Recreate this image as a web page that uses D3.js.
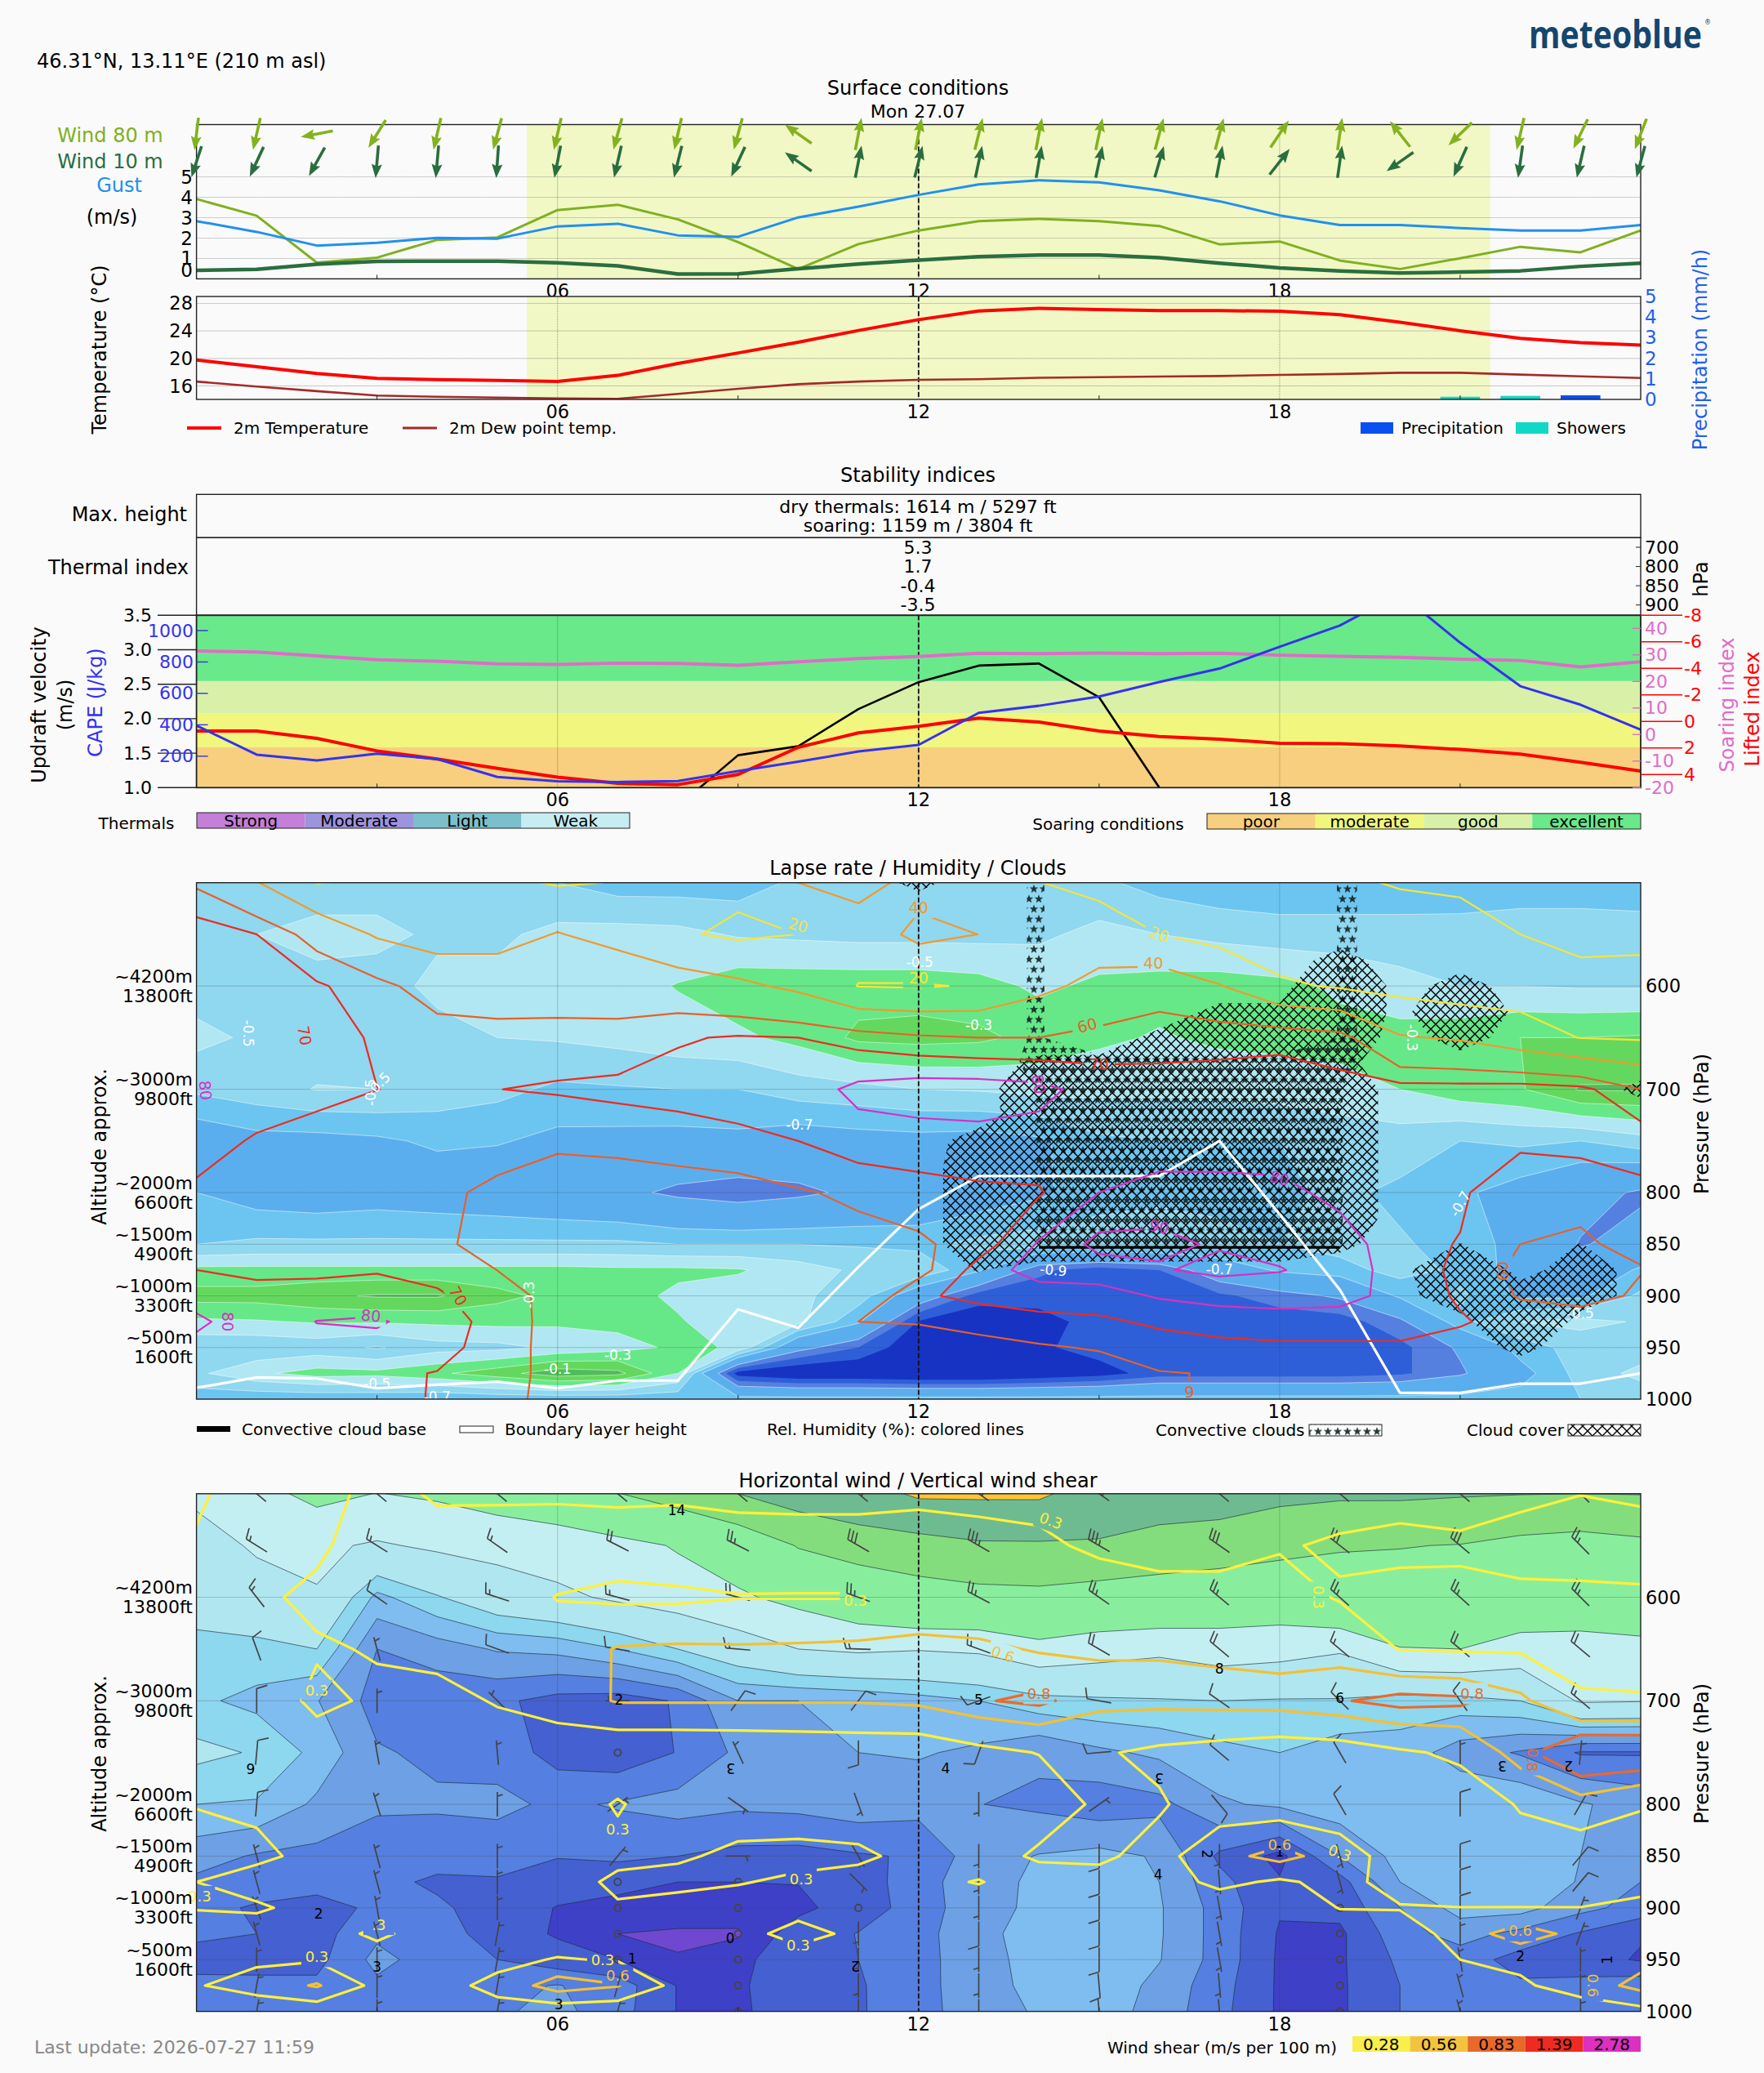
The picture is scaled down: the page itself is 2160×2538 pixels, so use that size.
<!DOCTYPE html>
<html>
<head>
<meta charset="utf-8">
<script src="https://cdn.jsdelivr.net/npm/d3@7"></script>
<style>
  html, body { margin: 0; padding: 0; background: #fafafa; }
  svg { display: block; }
  text { font-family: "DejaVu Sans", sans-serif; fill: #000; }
</style>
</head>
<body>
<div id="main"></div>
<script>
// hours of the day, 0..24
const hours = d3.range(25);
const mainTicks = [6, 12, 18];
const minorTicks = [3, 9, 15, 21];
const daylight = [5.49, 21.5];
const nowHour = 12;

// surface conditions
const wind80 = [3.91,3.09,.64,1.04,1.91,2.03,3.37,3.63,2.91,1.8,.08,1.7,2.37,2.83,2.94,2.83,2.59,1.69,1.83,.82,.08,1.01,1.57,1.3,2.37];
const wind10 = [-.03,.05,.49,.74,.77,.77,.62,.36,-.36,-.33,.1,.51,.85,1.09,1.17,1.17,1.04,.59,.18,-.08,-.26,-.18,-.08,.31,.59];
const gust = [2.83,2.3,1.63,1.77,2.01,1.97,2.57,2.7,2.13,2.06,3.01,3.54,4.11,4.63,4.83,4.73,4.34,3.8,3.11,2.64,2.64,2.49,2.37,2.37,2.64];
const dir80 = [187,193,259,212,193,195,193,195,193,195,305,11,11,14,11,12,15,15,34,8,322,226,193,206,201];
const dir10 = [198,205,209,185,185,184,191,193,194,205,305,11,14,12,10,12,16,11,38,8,235,204,188,193,195];
const temp2m = [19.77,18.8,17.82,17.1,16.93,16.81,16.64,17.53,19.27,20.79,22.36,24.06,25.63,26.9,27.28,27.11,26.94,26.94,26.86,26.35,25.25,24.02,22.91,22.28,21.94];
const dew2m = [16.64,15.92,15.24,14.6,14.43,14.3,14.18,14.13,14.85,15.58,16.25,16.64,16.89,16.98,17.19,17.27,17.36,17.44,17.61,17.74,17.91,17.91,17.65,17.4,17.15];
const showers = [[21,.13],[22,.17]];
const precipitation = [[23,.2]];

// stability indices
const thermalHours = [8,9,10,11,12,13,14,15,16];
const updraft = [.73,1.47,1.6,2.14,2.53,2.77,2.8,2.31,1.0];
const cape = [395,210,173,216,182,68,40,36,42,106,165,230,272,476,521,580,672,758,897,1032,1235,923,646,528,369];
const lifted = [.72,.72,1.27,2.22,2.83,3.53,4.2,4.66,4.76,4,1.95,.86,.37,-.25,.04,.72,1.13,1.33,1.64,1.68,1.85,2.11,2.46,3.08,3.73];
const soaring = [31.5,31.1,29.6,28.2,27.6,26.6,26.4,26.9,26.8,26.1,27.4,28.6,29.4,30.6,30.5,30.7,30.5,30.6,29.9,29.5,29.1,28.4,27.9,25.5,27.4];
const soaringBands = [[1,1.585,"#f7cf7e"],[1.585,2.08,"#f0f67e"],[2.08,2.546,"#d9f0a8"],[2.546,3.5,"#69e98a"]];
const thermalIndex = ["5.3","1.7","-0.4","-3.5"];
const thermalIndexP = [700,800,850,900];
const thermalKeys = [["Strong","#c47fd8"],["Moderate","#9e94dd"],["Light","#7bbfcc"],["Weak","#c6edf2"]];
const soaringKeys = [["poor","#f7cf7e"],["moderate","#f0f67e"],["good","#d9f0a8"],["excellent","#69e98a"]];

// pressure levels of the grids below
const levels = [500,550,600,650,700,750,800,850,875,900,925,950,975,1000];
const pressureTicks = [600,700,800,850,900,950,1000];
const altitudeTicks = [[600,"~4200m","13800ft"],[700,"~3000m","9800ft"],[800,"~2000m","6600ft"],[850,"~1500m","4900ft"],[900,"~1000m","3300ft"],[950,"~500m","1600ft"]];

// lapse rate, one row per level, one value per hour
const lapse = [
[-.55,-.55,-.55,-.55,-.55,-.55,-.6,-.65,-.65,-.65,-.58,-.55,-.55,-.55,-.55,-.58,-.64,-.67,-.68,-.68,-.68,-.66,-.64,-.64,-.65],
[-.56,-.5,-.47,-.47,-.52,-.52,-.47,-.46,-.47,-.51,-.52,-.53,-.53,-.53,-.52,-.47,-.5,-.53,-.55,-.55,-.55,-.56,-.56,-.56,-.56],
[-.55,-.55,-.53,-.55,-.47,-.47,-.45,-.44,-.395,-.34,-.34,-.34,-.34,-.36,-.42,-.38,-.36,-.35,-.37,-.42,-.47,-.5,-.5,-.51,-.51],
[-.47,-.52,-.55,-.55,-.54,-.5,-.49,-.47,-.44,-.42,-.37,-.28,-.27,-.28,-.33,-.38,-.41,-.38,-.37,-.36,-.36,-.34,-.3,-.3,-.29],
[-.58,-.54,-.495,-.5,-.54,-.57,-.62,-.61,-.6,-.6,-.55,-.53,-.5,-.49,-.47,-.47,-.48,-.47,-.46,-.44,-.4,-.34,-.31,-.19,-.19],
[-.79,-.74,-.74,-.72,-.68,-.69,-.73,-.735,-.74,-.73,-.77,-.75,-.74,-.75,-.72,-.62,-.6,-.6,-.6,-.56,-.55,-.6,-.58,-.6,-.54],
[-.7,-.76,-.78,-.76,-.78,-.8,-.83,-.86,-.93,-.97,-.93,-.87,-.82,-.78,-.72,-.64,-.62,-.62,-.62,-.58,-.62,-.68,-.75,-.84,-.92],
[-.6,-.58,-.58,-.58,-.58,-.58,-.58,-.58,-.6,-.6,-.6,-.61,-.63,-.57,-.55,-.55,-.55,-.58,-.6,-.56,-.59,-.63,-.75,-.91,-.85],
[-.37,-.37,-.37,-.37,-.37,-.37,-.37,-.38,-.38,-.39,-.45,-.52,-.52,-.68,-.98,-1.05,-1,-.8,-.68,-.64,-.56,-.62,-.75,-.82,-.68],
[-.26,-.26,-.22,-.19,-.19,-.27,-.33,-.36,-.42,-.45,-.48,-.55,-.8,-1.05,-1.05,-1.05,-1.05,-1.02,-.95,-.88,-.68,-.58,-.72,-.72,-.58],
[-.42,-.41,-.39,-.39,-.38,-.37,-.38,-.37,-.39,-.46,-.47,-.68,-1.11,-1.18,-1.15,-1.05,-1.06,-1.08,-1.06,-1.05,-.93,-.63,-.5,-.47,-.51],
[-.58,-.58,-.56,-.61,-.54,-.53,-.48,-.44,-.38,-.41,-.85,-1,-1.2,-1.25,-1.12,-1.05,-1.05,-1.05,-1.05,-1.05,-1.03,-.88,-.65,-.56,-.56],
[-.52,-.42,-.36,-.37,-.32,-.24,-.14,-.17,-.4,-1.15,-1.22,-1.22,-1.25,-1.25,-1.2,-1.15,-1.05,-1.05,-1.05,-1.05,-1.02,-.92,-.75,-.56,-.47],
[-.66,-.68,-.68,-.68,-.7,-.68,-.68,-.68,-.68,-.65,-.65,-.65,-.65,-.65,-.65,-.65,-.65,-.65,-.65,-.65,-.65,-.65,-.65,-.6,-.57]];
const lapseLevels = [-1.1,-1,-.9,-.7,-.6,-.5,-.4,-.3,-.2,-.1];
const lapseColors = ["#1733c4","#2f5fd8","#5580e0","#5baeee","#6cc5f0","#90d7f0","#b0e7f2","#66e888","#64d85e","#50bd5a","#a8e0a0"];

// relative humidity
const humidity = [
[58,41,19.5,22,27,24,18.5,20.5,25,24,40,48,33,30,20.4,15,13,10,8,18,21,24,28,30,30],
[76,70,54.5,38,32,32,41,33,22,17,20.05,28,45,39.9,25,29,20,13,8,8,13,10,20,28,24],
[77,72,71.5,64,53,53,52,56,50,44,36,19.5,18.5,21.5,35,46,52,41,23,18,14,10,11,10,14],
[77,75,77,68,66,64,65,62.3,69,71,70,66,62,60,60,64,68,68.5,69,65,41.5,38,29,19.5,18],
[81,77,76,70.1,68,69.9,71,73,74,75,75,82.5,85,85,83,75.5,72,72,72,73,74,74,75,73,60],
[75,68.7,62,64,65,65,62,62,64.7,67.5,70,76,76,77,76,74,72,74,74,72,72,73,73,74,76],
[68,66,62,62,62.5,57.5,54,56,55,55.5,59,62,66,68,69,80,85.5,84,83,77,72,72,60,62,67],
[67,67,63,62,61.5,57,54,54,53,53,55,56.5,58,65,81,93,92,89,87,85,74,69.4,60,59,62],
[70,69,68,69,67,59.9,55,53,52,50,50,52,56,74,85,85,89,93,90.5,86,75,68,57,55,59.5],
[76,71.6,74,76,71.3,65,56,52,51,48,47,50,68,73.5,74,76,81,81,84,84,76,68.7,59,55,62],
[82,74,80.2,81,76,65.5,56,52,51,48,47,60,61,62,67.5,68,72,78.5,76,74.5,73,71,66,67,68],
[77,72,77,77,74,65,56,52,50,47,46,50,52,58,58.7,61,65,64.5,68,68.5,69,66,66,67,68],
[75,72,75,72,69.6,65,56,52,50,47,46,47,47,47,48,54,59.5,60.5,63,63,64,64,65,66,68],
[73,72,74,72,69.5,65,55,52,50,47,46,47,47,47,47,50,59,61,63,63,64,64,65,66,68]];
const humidityLevels = [[20,"#f5e53a"],[40,"#f09a2d"],[60,"#e8602a"],[70,"#ee2b20"],[80,"#d830c0"],[90,"#d830c0"]];

// horizontal wind speed (m/s)
const windSpeed = [
[8.5,9.3,10.6,9.95,10.3,11,11.5,13.9,15.5,18,20,22,26,26,26,22,21,20,19,18.6,18.6,18.3,18.1,18,18.1],
[7,8.3,8.3,7.8,8.3,8.6,9,9.2,10.2,11.3,14.2,15.3,15.6,17.2,17.3,17.4,16,16,15,14.2,14.1,13.9,13,12.5,13.2],
[6.5,7,7.9,4.7,5.9,7,7.6,8.3,8.9,9.7,10.6,11.8,12.9,12.9,13.1,12.4,12.4,11.5,11.5,12.7,12.6,12.2,11.7,11.5,11.5],
[5.7,5.7,6,3,3.5,4.1,4.3,5,6,7,8,8.3,8.1,8.3,9.3,8.8,8.4,9,8.7,8.2,9.9,10,9.2,9.2,9.5],
[5.2,4.7,4.05,2.6,2.3,2.2,1.65,1.5,2.1,4,4,4.2,4.6,5,5.6,5.8,5.9,6,5.9,5.9,5.5,5.6,6,8.2,8.1],
[6.3,5.9,4.7,3.1,2.8,2.6,1.6,1.3,2.05,3.2,3.8,4,4.1,3.8,3.2,3.8,4.2,4.7,5,4.5,4.6,3.5,2.9,1.9,1.9],
[5,4.9,3.8,3.2,3.15,3.25,2.8,3.1,3.4,3.2,3.3,3.6,3.4,3.02,2.8,2.4,2.7,3.85,4.2,4.6,4.8,4.9,4.8,4.1,3.6],
[3.4,2.9,2.73,2.3,2.35,2.4,2.05,2.2,2,1.7,1.65,1.9,2.1,3.6,4.05,4.3,3.9,1.8,.7,3,4.35,4.9,4.9,4,3.5],
[2.8,2.7,2.4,2.25,1.85,1.9,1.5,1.3,1,1,1.02,1.45,2.6,3.6,4.2,4.8,4,2.3,1.1,1.6,4,4.8,4.9,3.9,3],
[2.4,1.85,1.6,2.2,2.15,1.6,.95,.7,.7,.7,.85,1.3,2.6,3.5,4.3,4.9,4.1,2.6,1.1,1.3,3,4.4,4.4,3.3,2.6],
[2.2,2,1.6,2.8,2.5,1.5,.9,.5,.45,.45,1.3,2.05,2.6,3.8,4.3,4.9,4.1,2.6,.9,.8,2.6,3.4,2.7,1.9,1.1],
[1.6,1.7,1.7,3.3,2.5,2,1.4,1,.52,.75,1.6,2,2.6,3.7,4.3,4.9,4.05,2.6,.85,.85,2.2,2.5,1.6,1.4,.9],
[2.3,2.2,2.2,2.8,2.5,2.75,3.05,2.5,.95,.85,1.65,1.9,2.65,3.6,4.3,4.7,3.7,2.4,.85,.85,2,2.5,2.15,2.3,2.6],
[2.6,2.7,2.6,2.7,2.4,2.85,3.3,2.4,.95,.8,1.65,1.9,2.6,3.6,4.1,4.5,3.6,2.3,.85,.85,2,2.5,2.3,2.4,2.5]];
const windLevels = [.5,1,2,3,4,5,6,8,10,14,18,25];
const windColors = ["#7048d0","#3f40c8","#4560d0","#557fe0","#6da0e4","#7fbcf0","#8dd7ef","#b0e6f0","#c4eff2","#88ee9e","#84dd7c","#6fbb91","#fdc535"];

// wind direction (deg) of the barbs: rows as levels, columns as barbHours
const barbHours = [1,3,5,7,9,11,13,15,17,19,21,23];
const barbDir = [
[310,310,310,310,310,310,305,305,310,310,310,315],
[302,302,305,297,297,300,300,300,305,308,310,315],
[322,305,288,285,285,290,298,305,310,312,312,315],
[340,345,290,280,275,272,290,300,310,310,310,310],
[0,0,315,270,35,37,250,280,305,315,325,310],
[5,350,355,100,335,180,200,265,310,330,0,5],
[5,343,0,55,125,160,180,55,140,330,0,30],
[345,345,0,40,90,150,180,180,180,165,0,40],
[345,345,0,0,0,135,180,180,175,165,0,40],
[340,350,0,0,0,170,180,180,170,0,0,20],
[345,345,10,0,0,180,180,180,170,0,0,20],
[0,0,10,0,0,180,180,180,170,0,350,0],
[10,0,10,15,0,180,180,175,175,0,345,0],
[10,0,10,15,0,180,180,175,175,0,345,0]];

// vertical wind shear (m/s per 100 m)
const shear = [
[.33,.2,.2,.38,.27,.28,.26,.26,.25,.22,.22,.22,.22,.22,.22,.22,.22,.2,.2,.2,.22,.2,.25,.295,.27],
[.28,.2,.25,.45,.4,.37,.46,.41,.48,.44,.42,.42,.48,.4,.35,.25,.2,.2,.28,.33,.36,.34,.39,.45,.39],
[.2,.25,.36,.45,.45,.45,.29,.25,.25,.29,.29,.29,.35,.4,.45,.45,.4,.4,.4,.28,.22,.24,.25,.23,.27],
[.2,.2,.27,.32,.42,.45,.43,.62,.64,.63,.64,.66,.7,.65,.58,.58,.58,.55,.5,.5,.29,.27,.27,.24,.25],
[.15,.1,.37,.25,.17,.33,.45,.62,.62,.62,.62,.62,.65,.78,.85,.67,.67,.69,.71,.78,.88,.85,.66,.32,.31],
[.2,.15,.14,.1,.1,.08,.1,.05,.05,.06,.08,.1,.1,.22,.31,.33,.24,.18,.12,.15,.26,.35,.72,1.05,1.05],
[.29,.25,.2,.12,.1,.08,.1,.33,.1,.1,.1,.1,.1,.1,.1,.36,.33,.15,.12,.1,.1,.15,.32,.5,.33],
[.4,.36,.22,.15,.12,.1,.1,.2,.25,.38,.4,.36,.2,.12,.36,.35,.2,.5,.7,.45,.15,.1,.2,.1,.1],
[.3,.18,.2,.15,.1,.1,.12,.38,.42,.32,.24,.18,.2,.32,.1,.2,.15,.38,.25,.4,.18,.12,.15,.12,.18],
[.31,.34,.2,.15,.1,.1,.1,.26,.12,.15,.15,.12,.15,.1,.1,.1,.1,.1,.1,.31,.32,.305,.305,.305,.39],
[.2,.15,.15,.36,.15,.1,.12,.18,.1,.15,.45,.2,.12,.1,.1,.1,.1,.1,.1,.1,.1,.45,.75,.5,.45],
[.2,.25,.27,.15,.15,.22,.32,.28,.1,.1,.1,.1,.1,.1,.1,.1,.1,.1,.1,.1,.1,.3,.36,.48,.5],
[.28,.42,.63,.21,.2,.38,.75,.62,.2,.1,.1,.1,.1,.1,.1,.1,.1,.1,.1,.1,.1,.1,.26,.42,.7],
[.2,.1,.1,.15,.2,.2,.1,.08,.1,.1,.1,.1,.1,.1,.1,.1,.1,.1,.1,.1,.1,.1,.1,.15,.2]];
const shearLevels = [[.3,"#fff03c"],[.6,"#f3c036"],[.8,"#ea6a2a"]];
const shearKeys = [["0.28","#f9ee4b"],["0.56","#f3c33d"],["0.83","#e9682a"],["1.39","#ee2b20"],["2.78","#dc30c0"]];

// boundary layer height and convective cloud base (hPa)
const boundaryLayer = [989,979,980,989.5,986,983,989.5,982,982,913,931,872,816,784,784,784,784,750,821,894,994,994,985,985,975];
const cloudBaseHours = [14,15,16,17,18,19];
const cloudBase = [853,853,853,853,853,853];

// cloud cover and convective cloud, on a 25 hPa grid: [hPa, from hour, to hour, value]
const cloudSpans = [
[500,12,12,.3],[575,19,19,.35],[600,19,19,.9],[600,21,21,.4],[625,18,18,.3],[625,19,19,.9],[625,21,21,1],[650,21,21,.4],
[625,17,17,.3],[650,16,16,.3],[650,17,18,1],[650,19,19,.6],[675,14,19,.3],[700,14,14,.6],[700,15,18,1],[700,19,19,.55],[700,24,24,.3],
[725,14,14,.55],[725,15,18,1],[725,19,19,.55],[750,13,13,.4],[750,14,18,1],[750,19,19,.55],[775,13,13,.49],[775,14,18,1],[775,19,19,.55],
[800,13,13,.49],[800,14,18,1],[800,19,19,.55],[825,13,13,.49],[825,14,18,1],[825,19,19,.55],[850,13,13,.49],[850,14,18,.6],[850,19,19,.3],
[875,13,13,.22],[850,21,21,.21],[875,21,21,1],[900,21,21,.6],[900,22,22,.5],[925,22,22,1],[950,22,22,.3],[850,23,23,.21],[875,23,23,.5],[900,23,23,.5]];
const convectiveColumnRows = [500,525,550,575,600,625,650];
const convectiveColumns = [[13,.12],[14,.22],[19,.21],[20,.175]];
const convectiveBody = [
[675,14,19,.3],[700,14,14,.21],[700,15,18,1],[700,19,19,.21],[725,14,14,.21],[725,15,18,1],[725,19,19,.21],[750,14,14,.21],[750,15,18,1],[750,19,19,.21],
[775,14,14,.21],[775,15,18,1],[775,19,19,.21],[800,14,14,.21],[800,15,18,1],[800,19,19,.21],[825,14,14,.21],[825,15,18,1],[825,19,19,.21],[850,14,19,.21]];

// contour labels: [hour, hPa, text, rotation]
const lapseLabels = [[.86,646,"-0.5",90],[3.02,695,"-0.5",-45],[2.9,703,"-0.5",-90],[10.02,734,"-0.7",0],[5.53,899,"-0.3",-90],[7.0,957,"-0.3",0],[6,971,"-0.1",0],[3,985,"-0.5",0],[4,998,"-0.7",0],[12.02,577,"-0.5",0],[13,638,"-0.3",0],[20.2,650,"-0.3",90],[14.24,875,"-0.9",5],[17,874,"-0.7",0],[23,917,"-0.5",0],[21,811,"-0.7",-60]];
const humidityLabels = [[1.8,648,"70",80,70],[.15,701,"80",85,80],[.52,925,"80",90,80],[2.9,919,"80",5,80],[4.35,900,"70",60,70],[10,541,"20",15,20],[12,524,"40",0,40],[12,592,"20",0,20],[16,550,"20",20,20],[15.9,578,"40",0,40],[14.8,638,"60",-15,60],[15,676,"70",0,70],[14,695,"80",80,80],[18,786,"80",15,80],[16,833,"90",10,90],[21.7,876,"60",-90,60],[16.5,993,"6",180,60]];
const windLabels = [[.9,766,"9",0],[7.02,699,"2",0],[8.88,765,"3",180],[12.45,765,"4",0],[2.03,906,"2",0],[3,957,"3",0],[6.02,993,"3",0],[7.24,949,"1",0],[8.87,929,"0",0],[10.95,956,"2",180],[7.98,516,"14",0],[13,699,"5",0],[17,669,"8",0],[19,697,"6",0],[16,775,"3",180],[15.98,868,"4",0],[16.8,848,"2",90],[18,846,"1",0],[21.7,763,"3",180],[22.8,763,"2",180],[22,947,"2",0],[23.45,950,"1",-90]];
const shearLabels = [[3.03,916,".3",0,.3],[2,690,"0.3",0,.3],[.05,889,"0.3",0,.3],[2,947,"0.3",0,.3],[6.75,950,"0.3",0,.3],[7,824,"0.3",0,.3],[10.05,872,"0.3",0,.3],[10.95,603,"0.3",0,.3],[10,936,"0.3",0,.3],[7.0,965,"0.6",0,.6],[14.2,526,"0.3",20,.3],[13.4,655,"0.6",20,.6],[14,693,"0.8",0,.8],[18,839,"0.6",0,.6],[19,847,"0.3",20,.3],[18.65,600,"0.3",90,.3],[21.2,693,"0.8",0,.8],[22.2,757,"0.8",90,.8],[22,922,"0.6",0,.6],[23.2,975,"0.6",90,.6]];

const width = 2160, height = 2538;
const left = 240.6, right = 2009;

const svg = d3.select("#main").append("svg")
  .attr("width", width).attr("height", height)
  .attr("viewBox", [0, 0, width, height]);
const defs = svg.append("defs");

const x = d3.scaleLinear().domain([0, 24]).range([left, right]);

function label(g, px, py, str, opts = {}) {
  const t = g.append("text").attr("x", px).attr("y", py)
    .attr("text-anchor", opts.anchor || "middle")
    .attr("dominant-baseline", "central")
    .attr("font-size", opts.size || 24)
    .style("fill", opts.color || "#000")
    .text(str);
  if (opts.rotate) t.attr("transform", `rotate(${opts.rotate},${px},${py})`);
  if (opts.weight) t.attr("font-weight", opts.weight);
  return t;
}

function addClip(id, x0, y0, w, h) {
  defs.append("clipPath").attr("id", id).append("rect")
    .attr("x", x0).attr("y", y0).attr("width", w).attr("height", h);
  return `url(#${id})`;
}

function frame(g, y0, y1, w = 1.4) {
  g.append("rect").attr("x", left).attr("y", y0).attr("width", right - left).attr("height", y1 - y0)
    .attr("fill", "none").attr("stroke", "#222").attr("stroke-width", w);
}

function hourLines(g, y0, y1) {
  g.selectAll(null).data(mainTicks).join("line")
    .attr("x1", d => x(d)).attr("x2", d => x(d)).attr("y1", y0).attr("y2", y1)
    .attr("stroke", "#333").attr("stroke-width", .7).attr("stroke-dasharray", "1,1").attr("opacity", .7);
  g.append("line").attr("x1", x(nowHour)).attr("x2", x(nowHour)).attr("y1", y0).attr("y2", y1)
    .attr("stroke", "#111").attr("stroke-width", 1.8).attr("stroke-dasharray", "6,3");
}

function hourAxis(g, y1) {
  g.selectAll(null).data(minorTicks).join("line")
    .attr("x1", d => x(d)).attr("x2", d => x(d)).attr("y1", y1 - 5).attr("y2", y1)
    .attr("stroke", "#222").attr("stroke-width", 1);
  mainTicks.forEach(h => label(g, x(h), y1 + 15, d3.format("02")(h), { size: 22.5 }));
}

function hGrid(g, y, ticks) {
  g.selectAll(null).data(ticks).join("line")
    .attr("x1", left).attr("x2", right).attr("y1", d => y(d)).attr("y2", d => y(d))
    .attr("stroke", "#444").attr("stroke-width", .8).attr("stroke-dasharray", "1,1").attr("opacity", .7);
}

function drawLine(g, xs, ys, color, w) {
  g.append("path")
    .attr("d", d3.line().x(d => d[0]).y(d => d[1])(xs.map((v, i) => [x(v), ys(i)])))
    .attr("fill", "none").attr("stroke", color).attr("stroke-width", w).attr("stroke-linejoin", "round");
}

// ---------------- title block
label(svg, 45, 75, "46.31°N, 13.11°E (210 m asl)", { anchor: "start" });
label(svg, 2084, 41, "meteoblue", { anchor: "end", size: 46, color: "#15466e", weight: 700 })
  .style("font-family", "'Open Sans', sans-serif").attr("textLength", 212).attr("lengthAdjust", "spacingAndGlyphs");
label(svg, 2087, 27, "®", { anchor: "start", size: 8, color: "#15466e" });
label(svg, 1124, 108, "Surface conditions");
label(svg, 1124, 136, "Mon 27.07", { size: 22 });

// ---------------- surface conditions
const windTop = 152.5, windBottom = 341.4;
const yWind = d3.scaleLinear().domain([0, 1, 5]).range([330.5, 316.4, 216.4]);
const windP = svg.append("g");
windP.append("rect").attr("x", x(daylight[0])).attr("y", windTop).attr("width", x(daylight[1]) - x(daylight[0])).attr("height", windBottom - windTop).attr("fill", "#f1f8c6");
hGrid(windP, yWind, [1, 2, 3, 4, 5]);
hourLines(windP, windTop, windBottom);
const windClip = addClip("clipWind", left, windTop, right - left, windBottom - windTop);
const windLines = windP.append("g").attr("clip-path", windClip);
drawLine(windLines, hours, i => yWind(wind80[i]), "#80b020", 3);
drawLine(windLines, hours, i => yWind(gust[i]), "#2090f0", 3);
drawLine(windLines, hours, i => yWind(wind10[i]), "#2a6e3f", 4.5);
frame(windP, windTop, windBottom);
hourAxis(windP, windBottom);
[5, 4, 3, 2, 1, 0].forEach(v => label(windP, 236, yWind(v) + (v > 1 ? 1 : 0), v, { anchor: "end", size: 23 }));
label(svg, 135, 166, "Wind 80 m", { color: "#80b020" });
label(svg, 135, 198, "Wind 10 m", { color: "#2a6e3f" });
label(svg, 146, 227, "Gust", { color: "#2090f0" });
label(svg, 137, 266, "(m/s)");

// quiver arrows
function arrows(dirs, cy, color) {
  const g = svg.append("g").attr("fill", color);
  g.selectAll("path").data(dirs).join("path")
    .attr("transform", (d, i) => `translate(${x(i)},${cy}) rotate(${d})`)
    .attr("d", "M-1.8,20 L1.8,20 L1.8,-5 L6.5,-3 L0,-20 L-6.5,-3 L-1.8,-5 Z");
}
arrows(dir80, 164, "#83b21e");
arrows(dir10, 198, "#2a6e3f");

// ---------------- temperature
const tempTop = 363, tempBottom = 489;
const yTemp = d3.scaleLinear().domain([16, 28]).range([472.5, 371.4]);
const yRain = d3.scaleLinear().domain([0, 5]).range([tempBottom, tempTop]);
const tempP = svg.append("g");
tempP.append("rect").attr("x", x(daylight[0])).attr("y", tempTop).attr("width", x(daylight[1]) - x(daylight[0])).attr("height", tempBottom - tempTop).attr("fill", "#f1f8c6");
hGrid(tempP, yTemp, [16, 20, 24, 28]);
tempP.selectAll(null).data(showers).join("rect")
  .attr("x", d => x(d[0] - .33)).attr("width", x(.66) - x(0)).attr("y", d => yRain(d[1])).attr("height", d => yRain(0) - yRain(d[1])).attr("fill", "#11d8c6");
tempP.selectAll(null).data(precipitation).join("rect")
  .attr("x", d => x(d[0] - .33)).attr("width", x(.66) - x(0)).attr("y", d => yRain(d[1])).attr("height", d => yRain(0) - yRain(d[1])).attr("fill", "#0a50f0");
hourLines(tempP, tempTop, tempBottom);
const tempClip = addClip("clipTemp", left, tempTop, right - left, tempBottom - tempTop);
const tempLines = tempP.append("g").attr("clip-path", tempClip);
drawLine(tempLines, hours, i => yTemp(temp2m[i]), "#ff0000", 4);
drawLine(tempLines, hours, i => yTemp(dew2m[i]), "#a52a2a", 2.6);
frame(tempP, tempTop, tempBottom);
hourAxis(tempP, tempBottom);
[16, 20, 24, 28].forEach(v => label(tempP, 236, yTemp(v), v, { anchor: "end", size: 22.5 }));
[0, 1, 2, 3, 4, 5].forEach(v => label(tempP, 2014, yRain(v), v, { anchor: "start", size: 23, color: "#1e5ff0" }));
label(svg, 122, 428, "Temperature (°C)", { rotate: -90 });
label(svg, 2082, 428, "Precipitation (mm/h)", { rotate: -90, color: "#1e5ff0" });

// legend
function lineKey(px, py, color, w, str) {
  svg.append("line").attr("x1", px).attr("x2", px + 42).attr("y1", py).attr("y2", py).attr("stroke", color).attr("stroke-width", w);
  label(svg, px + 57, py, str, { anchor: "start", size: 20 });
}
lineKey(229, 524, "#ff0000", 4, "2m Temperature");
lineKey(493, 524, "#a52a2a", 3, "2m Dew point temp.");
svg.append("rect").attr("x", 1666).attr("y", 517).attr("width", 40).attr("height", 14).attr("fill", "#0a50f0");
label(svg, 1716, 524, "Precipitation", { anchor: "start", size: 20 });
svg.append("rect").attr("x", 1856).attr("y", 517).attr("width", 40).attr("height", 14).attr("fill", "#11d8c6");
label(svg, 1906, 524, "Showers", { anchor: "start", size: 20 });

// ---------------- stability indices
label(svg, 1124, 582, "Stability indices");
const stabTop = 753.3, stabBottom = 964.3;
const yUp = d3.scaleLinear().domain([1, 3.5]).range([stabBottom, stabTop]);
const yCape = d3.scaleLinear().domain([0, 1000]).range([stabBottom, 772]);
const yLift = d3.scaleLinear().domain([-8, 4]).range([stabTop, 948.3]);
const ySoar = d3.scaleLinear().domain([-20, 40]).range([stabBottom, 769.3]);
const yIdx = d3.scalePoint().domain(thermalIndexP).range([670, 740.7]);
const stab = svg.append("g");
stab.selectAll(null).data(soaringBands).join("rect")
  .attr("x", left).attr("width", right - left)
  .attr("y", d => yUp(d[1])).attr("height", d => yUp(d[0]) - yUp(d[1])).attr("fill", d => d[2]);
hourLines(stab, stabTop, stabBottom);
const stabClip = addClip("clipStab", left, stabTop, right - left, stabBottom - stabTop);
const stabLines = stab.append("g").attr("clip-path", stabClip);
drawLine(stabLines, thermalHours, i => yUp(updraft[i]), "#000", 2.6);
drawLine(stabLines, hours, i => ySoar(soaring[i]), "#e06cc8", 4);
drawLine(stabLines, hours, i => yLift(lifted[i]), "#ff0000", 4);
drawLine(stabLines, hours, i => yCape(cape[i]), "#3333ee", 3);
frame(stab, 605.3, 658.3);
frame(stab, 658.3, stabTop);
frame(stab, stabTop, stabBottom, 1.8);
hourAxis(stab, stabBottom);
label(stab, 229, 630, "Max. height", { anchor: "end" });
label(stab, 231, 695, "Thermal index", { anchor: "end" });
label(stab, 1124, 620, "dry thermals: 1614 m / 5297 ft", { size: 22 });
label(stab, 1124, 643, "soaring: 1159 m / 3804 ft", { size: 22 });
thermalIndex.forEach((t, i) => {
  label(stab, 1124, yIdx(thermalIndexP[i]), t, { size: 22 });
  stab.append("line").attr("x1", right - 6).attr("x2", right).attr("y1", yIdx(thermalIndexP[i])).attr("y2", yIdx(thermalIndexP[i])).attr("stroke", "#222");
  label(stab, 2014, yIdx(thermalIndexP[i]), thermalIndexP[i], { anchor: "start", size: 22 });
});
label(svg, 2083, 709, "hPa", { rotate: -90 });
d3.range(1, 3.6, .5).forEach(v => {
  stab.append("line").attr("x1", 193).attr("x2", left).attr("y1", yUp(v)).attr("y2", yUp(v)).attr("stroke", "#222").attr("stroke-width", 1.4);
  label(stab, 186, yUp(v), d3.format(".1f")(v), { anchor: "end", size: 22 });
});
[200, 400, 600, 800, 1000].forEach(v => {
  stab.append("line").attr("x1", left).attr("x2", left + 14).attr("y1", yCape(v)).attr("y2", yCape(v)).attr("stroke", "#3333ee").attr("stroke-width", 1.4);
  label(stab, 237, yCape(v), v, { anchor: "end", size: 22, color: "#3333ee" });
});
[-8, -6, -4, -2, 0, 2, 4].forEach(v => {
  stab.append("line").attr("x1", right).attr("x2", 2060).attr("y1", yLift(v)).attr("y2", yLift(v)).attr("stroke", "#ff0000").attr("stroke-width", 1.6);
  label(stab, 2062, yLift(v), v, { anchor: "start", size: 22, color: "#ff0000" });
});
[-20, -10, 0, 10, 20, 30, 40].forEach(v => {
  stab.append("line").attr("x1", right - 10).attr("x2", right).attr("y1", ySoar(v)).attr("y2", ySoar(v)).attr("stroke", "#e06cc8").attr("stroke-width", 1.4);
  label(stab, 2014, ySoar(v), v, { anchor: "start", size: 22, color: "#e06cc8" });
});
label(svg, 48, 863, "Updraft velocity", { rotate: -90 });
label(svg, 80, 863, "(m/s)", { rotate: -90 });
label(svg, 117, 860, "CAPE (J/kg)", { rotate: -90, color: "#3333ee" });
label(svg, 2115, 863, "Soaring index", { rotate: -90, color: "#e06cc8" });
label(svg, 2146, 868, "Lifted index", { rotate: -90, color: "#ff0000" });

function keyBar(keys, x0, x1, y0, y1) {
  const w = (x1 - x0) / keys.length;
  keys.forEach((k, i) => {
    svg.append("rect").attr("x", x0 + i * w).attr("y", y0).attr("width", w).attr("height", y1 - y0).attr("fill", k[1]);
    label(svg, x0 + (i + .5) * w, (y0 + y1) / 2, k[0], { size: 20 });
  });
  svg.append("rect").attr("x", x0).attr("y", y0).attr("width", x1 - x0).attr("height", y1 - y0).attr("fill", "none").attr("stroke", "#222");
}
label(svg, 167, 1008, "Thermals", { size: 20 });
keyBar(thermalKeys, 241, 771, 995, 1014);
label(svg, 1357, 1009, "Soaring conditions", { size: 20 });
keyBar(soaringKeys, 1478, 2009, 996, 1015);

// ---------------- shared grid helpers
const levelIndex = d3.scaleLinear().domain(levels.map((_, i) => i + .5)).range(levels);

function gridPath(y, hourStep = 1, levelScale = levelIndex) {
  const projection = d3.geoTransform({
    point(px, py) { this.stream.point(x((px - .5) * hourStep), y(levelScale(py))); }
  });
  return d3.geoPath(projection);
}

function contourField(grid, thresholds) {
  return d3.contours().size([grid[0].length, grid.length]).thresholds(thresholds)(grid.flat());
}

function fromSpans(spans, rows) {
  const g = rows.map(() => hours.map(() => 0));
  spans.forEach(s => {
    const r = rows.indexOf(s[0]);
    for (let h = s[1]; h <= s[2]; h++) g[r][h] = s[3];
  });
  return g;
}

function axisLabels(g, y, centre, pressureCentre) {
  altitudeTicks.forEach(t => {
    label(g, 236, y(t[0]) - 12, t[1], { anchor: "end", size: 22 });
    label(g, 236, y(t[0]) + 12, t[2], { anchor: "end", size: 22 });
  });
  pressureTicks.forEach(p => label(g, 2015, y(p), p, { anchor: "start", size: 22.5 }));
  label(svg, 122, centre, "Altitude approx.", { rotate: -90 });
  label(svg, 2084, pressureCentre, "Pressure (hPa)", { rotate: -90 });
}

function contourLabels(g, y, labels, colorOf, size = 19) {
  labels.forEach(l => {
    label(g, x(l[0]), y(l[1]), l[2], { size, color: colorOf(l), rotate: l[3] });
  });
}

// level lines cut open under their labels
function contourLines(g, y, grid, keyed, labels, w, id) {
  const clip = addClip(id, left, y(500), right - left, y(1000) - y(500));
  const mask = defs.append("mask").attr("id", id + "Mask").attr("maskUnits", "userSpaceOnUse")
    .attr("x", 0).attr("y", 0).attr("width", width).attr("height", height);
  mask.append("rect").attr("width", width).attr("height", height).attr("fill", "#fff");
  labels.forEach(l => {
    const px = x(l[0]), py = y(l[1]);
    mask.append("rect").attr("x", px - 19).attr("y", py - 13).attr("width", 38).attr("height", 26)
      .attr("transform", `rotate(${l[3]},${px},${py})`).attr("fill", "#000");
  });
  const path = gridPath(y);
  const outer = g.append("g").attr("clip-path", clip);
  const inner = outer.append("g").attr("mask", `url(#${id}Mask)`);
  keyed.forEach(k => {
    contourField(grid, [k[0]]).forEach(c => {
      inner.append("path").attr("d", path(c)).attr("fill", "none")
        .attr("stroke", k[1]).attr("stroke-width", w).attr("stroke-linejoin", "round");
    });
  });
}

// ---------------- lapse rate / humidity / clouds
label(svg, 1124, 1063, "Lapse rate / Humidity / Clouds");
const yLapse = d3.scaleLinear().domain([500, 1000]).range([1080.7, 1713]);
const lapseP = svg.append("g");
const lapseClip = addClip("clipLapse", left, yLapse(500), right - left, yLapse(1000) - yLapse(500));
const lapseFill = lapseP.append("g").attr("clip-path", lapseClip);
lapseFill.append("rect").attr("x", left).attr("y", yLapse(500)).attr("width", right - left).attr("height", yLapse(1000) - yLapse(500)).attr("fill", lapseColors[0]);
const lapsePath = gridPath(yLapse);
contourField(lapse, lapseLevels).forEach((c, i) => {
  lapseFill.append("path").attr("d", lapsePath(c)).attr("fill", lapseColors[i + 1])
    .attr("stroke", lapseLevels[i] <= -1 ? "none" : "#fff").attr("stroke-opacity", .55).attr("stroke-width", .9);
});
hGrid(lapseP, yLapse, pressureTicks.slice(0, -1));
contourLines(lapseP, yLapse, humidity, humidityLevels, humidityLabels, 2.2, "clipHum");
hourLines(lapseP, yLapse(500), yLapse(1000));

// hatch patterns
const hatch = defs.append("pattern").attr("id", "hatchCloud").attr("patternUnits", "userSpaceOnUse").attr("width", 12).attr("height", 12);
hatch.append("path").attr("d", "M0,0 L12,12 M12,0 L0,12").attr("stroke", "#000").attr("stroke-width", 1.4);
const starPath = d3.range(10).map(i => {
  const r = i % 2 ? 2.3 : 5.6, a = i * Math.PI / 5 - Math.PI / 2;
  return [r * Math.cos(a), r * Math.sin(a)];
});
const star = defs.append("pattern").attr("id", "hatchStar").attr("patternUnits", "userSpaceOnUse").attr("width", 12).attr("height", 24.6);
[[6, 6], [0, 18.3], [12, 18.3]].forEach(p => {
  star.append("path").attr("transform", `translate(${p[0]},${p[1]})`)
    .attr("d", d3.line()(starPath) + "Z").attr("fill", "#122").attr("fill-opacity", .9);
});

const cloudLevels = d3.range(500, 1001, 25);
const cloudIndex = d3.scaleLinear().domain(cloudLevels.map((_, i) => i + .5)).range(cloudLevels);
const cloudPath = gridPath(yLapse, 1, cloudIndex);
const convectiveSpans = convectiveBody.concat(
  convectiveColumnRows.flatMap(p => convectiveColumns.map(c => [p, c[0], c[0], c[1]])));
contourField(fromSpans(convectiveSpans, cloudLevels), [.2]).forEach(c => {
  lapseFill.append("path").attr("d", cloudPath(c)).attr("fill", "url(#hatchStar)");
});
contourField(fromSpans(cloudSpans, cloudLevels), [.2]).forEach(c => {
  lapseFill.append("path").attr("d", cloudPath(c)).attr("fill", "url(#hatchCloud)");
});
drawLine(lapseFill, cloudBaseHours, i => yLapse(cloudBase[i]), "#000", 3.4);
drawLine(lapseFill, hours, i => yLapse(boundaryLayer[i]), "#fff", 3.2);
contourLabels(lapseP, yLapse, lapseLabels, () => "#fff", 17);
contourLabels(lapseP, yLapse, humidityLabels, l => humidityLevels.find(k => k[0] === l[4])[1]);
frame(lapseP, yLapse(500), yLapse(1000));
hourAxis(lapseP, yLapse(1000));
axisLabels(lapseP, yLapse, 1404, 1376);

svg.append("rect").attr("x", 241).attr("y", 1746).attr("width", 41).attr("height", 7).attr("fill", "#000");
label(svg, 296, 1750, "Convective cloud base", { anchor: "start", size: 20 });
svg.append("rect").attr("x", 563).attr("y", 1746).attr("width", 41).attr("height", 8).attr("fill", "#fff").attr("stroke", "#222");
label(svg, 618, 1750, "Boundary layer height", { anchor: "start", size: 20 });
label(svg, 939, 1750, "Rel. Humidity (%): colored lines", { anchor: "start", size: 20 });
label(svg, 1415, 1751, "Convective clouds", { anchor: "start", size: 20 });
svg.append("rect").attr("x", 1603).attr("y", 1744).attr("width", 89).attr("height", 14).attr("fill", "#fff");
svg.append("rect").attr("x", 1603).attr("y", 1744).attr("width", 89).attr("height", 14).attr("fill", "url(#hatchStar)").attr("stroke", "#222");
label(svg, 1796, 1751, "Cloud cover", { anchor: "start", size: 20 });
svg.append("rect").attr("x", 1920).attr("y", 1744).attr("width", 89).attr("height", 14).attr("fill", "url(#hatchCloud)").attr("stroke", "#222");

// ---------------- horizontal wind / shear
label(svg, 1124, 1813, "Horizontal wind / Vertical wind shear");
const yShear = d3.scaleLinear().domain([500, 1000]).range([1828.8, 2462.6]);
const shearP = svg.append("g");
const shearClip = addClip("clipShear", left, yShear(500), right - left, yShear(1000) - yShear(500));
const shearFill = shearP.append("g").attr("clip-path", shearClip);
shearFill.append("rect").attr("x", left).attr("y", yShear(500)).attr("width", right - left).attr("height", yShear(1000) - yShear(500)).attr("fill", windColors[0]);
const shearPath = gridPath(yShear);
contourField(windSpeed, windLevels).forEach((c, i) => {
  shearFill.append("path").attr("d", shearPath(c)).attr("fill", windColors[i + 1])
    .attr("stroke", "#1a2a3a").attr("stroke-opacity", .8).attr("stroke-width", .8);
});
hGrid(shearP, yShear, pressureTicks.slice(0, -1));
hourLines(shearP, yShear(500), yShear(1000));

// wind barbs
const barbs = [];
barbDir.forEach((row, r) => row.forEach((d, c) => {
  barbs.push({ hour: barbHours[c], p: levels[r], dir: d, speed: windSpeed[r][barbHours[c]] });
}));
function barbShape(speed) {
  const L = 15;
  let n = Math.round(speed / 2.5);
  let s = `M0,${L} L0,${-L}`;
  let pos = -L;
  if (n % 2 === 1 && n === 1) pos += 5;
  while (n >= 2) { s += ` M0,${pos} L13,${pos - 4}`; pos += 5; n -= 2; }
  if (n === 1) s += ` M0,${pos} L6.5,${pos - 2}`;
  return s;
}
const barbG = shearFill.append("g").attr("fill", "none").attr("stroke", "#444").attr("stroke-width", 1.7);
barbs.forEach(b => {
  const t = `translate(${x(b.hour)},${yShear(b.p)})`;
  if (b.speed < 1.4) barbG.append("circle").attr("transform", t).attr("r", 4.2);
  else barbG.append("path").attr("transform", `${t} rotate(${b.dir})`).attr("d", barbShape(b.speed));
});

contourLines(shearP, yShear, shear, shearLevels, shearLabels, 3.2, "clipSh");
contourLabels(shearP, yShear, windLabels, () => "#000", 17);
contourLabels(shearP, yShear, shearLabels, l => shearLevels.find(k => k[0] === l[4])[1], 18);
frame(shearP, yShear(500), yShear(1000));
hourAxis(shearP, yShear(1000));
axisLabels(shearP, yShear, 2147, 2147);

label(svg, 42, 2506, "Last update: 2026-07-27 11:59", { anchor: "start", size: 22, color: "#888" });
label(svg, 1637, 2507, "Wind shear (m/s per 100 m)", { anchor: "end", size: 20 });
const shearW = (2009 - 1656) / shearKeys.length;
shearKeys.forEach((k, i) => {
  svg.append("rect").attr("x", 1656 + i * shearW).attr("y", 2493).attr("width", shearW).attr("height", 19).attr("fill", k[1]);
  label(svg, 1656 + (i + .5) * shearW, 2503, k[0], { size: 20 });
});
</script>
</body>
</html>
